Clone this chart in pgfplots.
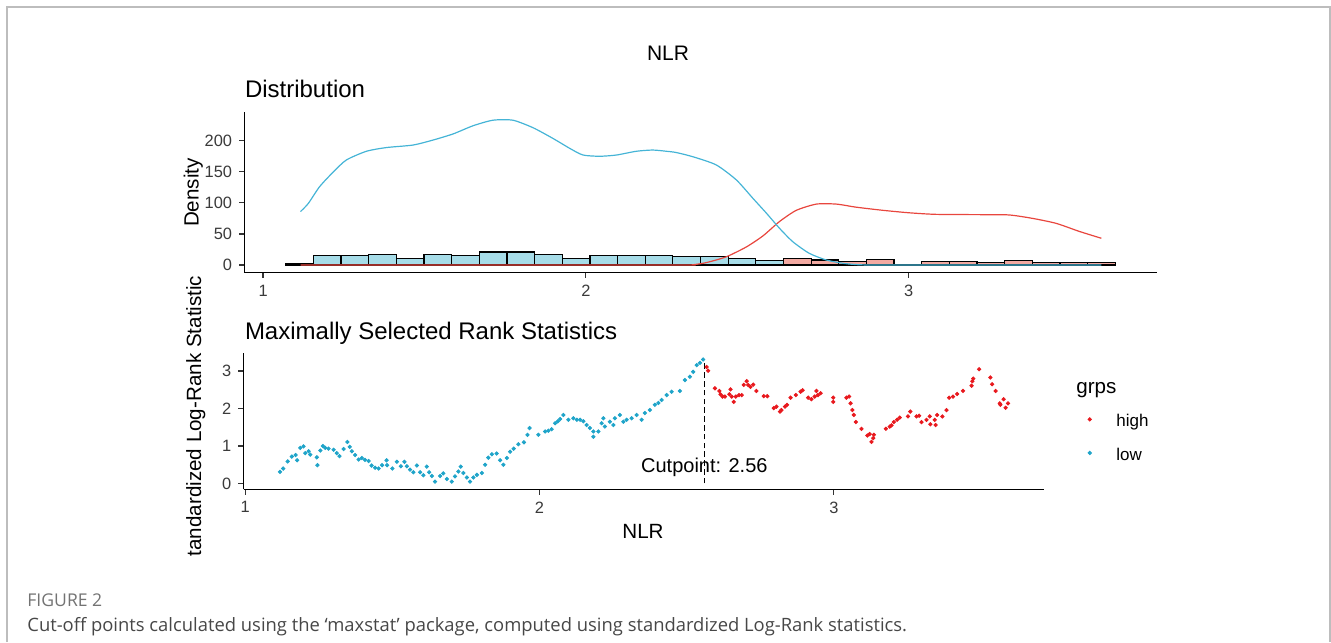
\documentclass[border=0pt]{standalone}
\usepackage{fontspec}
\setmainfont{Liberation Sans}
\newfontfamily\capfont{Open Sans}
\usepackage{pgfplots}
\usepackage{pgfplotstable}
\pgfplotsset{compat=1.18}
\definecolor{lowpt}{HTML}{1FA4C9}
\definecolor{highpt}{HTML}{E8191E}
\definecolor{lowline}{HTML}{45B4D6}
\definecolor{highline}{HTML}{E8463E}
\definecolor{lowbar}{HTML}{A6DCE8}
\definecolor{highbar}{HTML}{F2A9A1}
\definecolor{ticktxt}{HTML}{3A3A3A}
\definecolor{framegray}{HTML}{BDBDBD}

\pgfplotstableread{
x y
1.118 0.31
1.129 0.40
1.144 0.59
1.158 0.72
1.171 0.76
1.176 0.62
1.187 0.95
1.198 0.99
1.204 0.81
1.215 0.86
1.221 0.77
1.243 0.70
1.245 0.49
1.255 0.88
1.264 1.00
1.272 0.95
1.283 0.93
1.300 0.90
1.311 0.81
1.320 0.73
1.334 0.92
1.347 1.11
1.355 0.98
1.362 0.86
1.373 0.76
1.385 0.64
1.396 0.68
1.407 0.63
1.419 0.60
1.429 0.48
1.441 0.42
1.453 0.40
1.465 0.49
1.480 0.62
1.482 0.49
1.500 0.40
1.515 0.58
1.529 0.46
1.541 0.58
1.549 0.46
1.560 0.37
1.571 0.30
1.583 0.48
1.594 0.30
1.605 0.22
1.617 0.45
1.625 0.30
1.634 0.20
1.645 0.05
1.662 0.20
1.673 0.27
1.685 0.12
1.702 0.05
1.713 0.19
1.724 0.32
1.732 0.45
1.741 0.28
1.753 0.16
1.764 0.05
1.775 0.16
1.787 0.23
1.804 0.28
1.815 0.50
1.826 0.69
1.838 0.78
1.854 0.80
1.866 0.62
1.877 0.50
1.889 0.68
1.900 0.85
1.912 0.93
1.928 1.05
1.947 1.10
1.959 1.30
1.966 1.48
1.996 1.30
2.019 1.39
2.030 1.41
2.041 1.45
2.053 1.61
2.062 1.66
2.070 1.72
2.081 1.83
2.098 1.70
2.115 1.74
2.127 1.70
2.138 1.70
2.149 1.66
2.160 1.56
2.171 1.48
2.183 1.39
2.183 1.25
2.200 1.39
2.211 1.61
2.217 1.74
2.222 1.52
2.239 1.65
2.251 1.56
2.256 1.74
2.273 1.83
2.285 1.65
2.296 1.70
2.313 1.74
2.330 1.83
2.347 1.70
2.358 1.88
2.375 1.96
2.392 2.10
2.404 2.15
2.415 2.23
2.432 2.36
2.449 2.45
2.477 2.47
2.494 2.76
2.511 2.85
2.522 2.98
2.534 3.16
2.545 3.22
2.556 3.31
}\lowdata

\pgfplotstableread{
x y
2.568 3.11
2.573 3.01
2.596 2.54
2.611 2.47
2.615 2.38
2.622 2.32
2.630 2.32
2.645 2.38
2.649 2.51
2.653 2.32
2.660 2.18
2.667 2.32
2.678 2.36
2.687 2.36
2.694 2.63
2.704 2.73
2.709 2.63
2.717 2.58
2.726 2.64
2.737 2.47
2.762 2.33
2.774 2.33
2.796 2.01
2.805 2.05
2.817 1.92
2.822 1.96
2.834 2.05
2.841 2.10
2.853 2.29
2.871 2.36
2.887 2.45
2.894 2.49
2.913 2.29
2.924 2.25
2.935 2.32
2.941 2.47
2.946 2.36
2.955 2.41
2.998 2.29
2.998 2.18
3.043 2.29
3.052 2.32
3.057 2.14
3.063 1.96
3.068 1.83
3.075 1.64
3.094 1.46
3.114 1.28
3.122 1.32
3.128 1.11
3.134 1.21
3.136 1.30
3.177 1.46
3.190 1.52
3.196 1.55
3.204 1.64
3.215 1.70
3.224 1.76
3.252 1.79
3.260 1.92
3.281 1.79
3.290 1.81
3.298 1.64
3.315 1.70
3.326 1.79
3.328 1.58
3.343 1.70
3.346 1.56
3.351 1.83
3.369 1.79
3.383 1.96
3.392 2.29
3.405 2.32
3.419 2.39
3.439 2.47
3.468 2.61
3.471 2.73
3.474 2.80
3.494 3.05
3.532 2.83
3.538 2.65
3.550 2.47
3.564 2.14
3.566 2.10
3.577 2.25
3.584 2.02
3.592 2.14
}\highdata

\pgfplotsset{
 ggclassic/.style={
  scale only axis,
  axis lines=left,
  axis line style={-, line width=0.75pt, black},
  tick align=outside,
  major tick length=2.6pt,
  tick style={line width=0.6pt, black!80},
  tick label style={font=\fontsize{8.2}{10}\selectfont, text=ticktxt},
  /pgf/number format/assume math mode=true,
 }
}

\begin{document}
\begin{tikzpicture}
\useasboundingbox (0,0) rectangle (665.5pt,-321pt);
\draw[framegray, line width=0.8pt] (3.5pt,-321pt) -- (3.5pt,-3.5pt) -- (665pt,-3.5pt) -- (665pt,-321pt);

% ---------- top panel ----------
\begin{axis}[ggclassic,
  at={(122.15pt,-136.35pt)}, anchor=south west,
  width=456.2pt, height=80.5pt,
  xmin=0.9418, xmax=3.7685, ymin=-12.4, ymax=246.7,
  xtick={1,2,3}, ytick={0,50,100,150,200}]
\addplot[ybar interval, fill=lowbar, draw=black, line width=0.6pt] coordinates {
(1.0703,2) (1.1560,15) (1.2416,15) (1.3273,17) (1.4129,10) (1.4986,17)
(1.5843,15) (1.6699,21) (1.7556,21) (1.8412,17) (1.9269,10) (2.0126,15)
(2.0982,15) (2.1839,15) (2.2695,14) (2.3552,14) (2.4409,10) (2.5265,7)
(2.6122,0)};
\addplot[ybar interval, fill=highbar, draw=black, line width=0.6pt] coordinates {
(2.6122,11) (2.6978,8) (2.7835,5) (2.8692,9) (2.9548,1) (3.0405,6)
(3.1261,6) (3.2118,4) (3.2975,7) (3.3831,4) (3.4688,4) (3.5544,4)
(3.6401,0)};
\addplot[highline, line width=0.6pt, smooth, tension=0.4] coordinates {
(1.116,0) (1.7,0) (2.30,0) (2.333,0.5) (2.372,3.7) (2.434,13) (2.497,29)
(2.549,47) (2.600,70) (2.652,88) (2.714,98) (2.776,98) (2.838,93)
(2.920,88) (3.002,84) (3.085,81.5) (3.229,81) (3.312,80.5) (3.384,75)
(3.457,67) (3.529,54) (3.597,43)};
\addplot[lowline, line width=0.6pt, smooth, tension=0.4] coordinates {
(1.116,86) (1.140,99) (1.175,126) (1.218,150) (1.258,169) (1.320,183)
(1.382,189) (1.464,193) (1.526,201) (1.589,211) (1.650,224) (1.712,233)
(1.774,233) (1.836,221) (1.897,204) (1.949,188) (1.991,177) (2.043,175)
(2.095,177) (2.156,183) (2.207,185) (2.250,183) (2.280,181) (2.333,174)
(2.404,161) (2.466,137) (2.518,107) (2.560,83) (2.600,59) (2.641,37.5)
(2.692,18.8) (2.745,8) (2.797,2.7) (2.843,0.5) (2.9,0) (3.2,0) (3.597,0)};
\end{axis}

% ---------- bottom panel ----------
\begin{axis}[ggclassic,
  at={(121.8pt,-244.65pt)}, anchor=south west,
  width=400.4pt, height=68pt,
  xmin=0.9943, xmax=3.7157, ymin=-0.155, ymax=3.475,
  xtick={1,2,3}, ytick={0,1,2,3},
  clip=false,
  legend style={draw=none, fill=none, inner sep=0pt, outer sep=0pt,
    at={(1.0545,0.553)}, anchor=north west,
    font=\fontsize{8.5}{10}\selectfont,
    nodes={inner sep=0pt, text height=6.3pt, text depth=2pt},
    row sep=8.5pt,
    /tikz/every odd column/.append style={column sep=12.5pt}},
  legend cell align=left,
  legend image code/.code={\draw[#1] plot coordinates {(0pt,1.5pt)};}]
\addplot[only marks, mark=*, mark size=0.85pt, color=highpt] table[x=x,y=y] {\highdata};
\addlegendentry{high}
\addplot[only marks, mark=*, mark size=0.85pt, color=lowpt] table[x=x,y=y] {\lowdata};
\addlegendentry{low}
\addplot[forget plot, black, line width=0.6pt, dash pattern=on 2.8pt off 1.6pt] coordinates {(2.56,0) (2.56,3.31)};
\node[anchor=base, inner sep=0pt, font=\fontsize{10}{12}\selectfont] at (axis cs:2.56,0.29) {Cutpoint: 2.56};
\end{axis}

% ---------- texts ----------
\node[anchor=base, inner sep=0pt, font=\fontsize{10.5}{12}\selectfont] at (334pt,-30.5pt) {NLR};
\node[anchor=base west, inner sep=0pt, font=\fontsize{12}{14}\selectfont] at (122.3pt,-48.6pt) {Distribution};
\node[anchor=base west, inner sep=0pt, font=\fontsize{12}{14}\selectfont] at (122.3pt,-169.7pt) {Maximally Selected Rank Statistics};
\node[anchor=base, rotate=90, inner sep=0pt, font=\fontsize{10.3}{12}\selectfont] at (99.3pt,-96.3pt) {Density};
\node[anchor=base, rotate=90, inner sep=0pt, font=\fontsize{10.3}{12}\selectfont] at (100.5pt,-208pt) {tandardized Log-Rank Statistic};
\node[anchor=base, inner sep=0pt, font=\fontsize{10.3}{12}\selectfont] at (321.5pt,-269.4pt) {NLR};
\node[anchor=base west, inner sep=0pt, font=\fontsize{10.3}{12}\selectfont] at (538pt,-196.5pt) {grps};

\node[anchor=base west, inner sep=0pt, font=\capfont\fontsize{8.8}{10}\selectfont, text=black!55] at (13.5pt,-303pt) {FIGURE 2};
\node[anchor=base west, inner sep=0pt, font=\capfont\fontsize{9.2}{11}\selectfont, text=black!72] at (13.5pt,-315.5pt) {Cut-off points calculated using the ‘maxstat’ package, computed using standardized Log-Rank statistics.};
\end{tikzpicture}
\end{document}
